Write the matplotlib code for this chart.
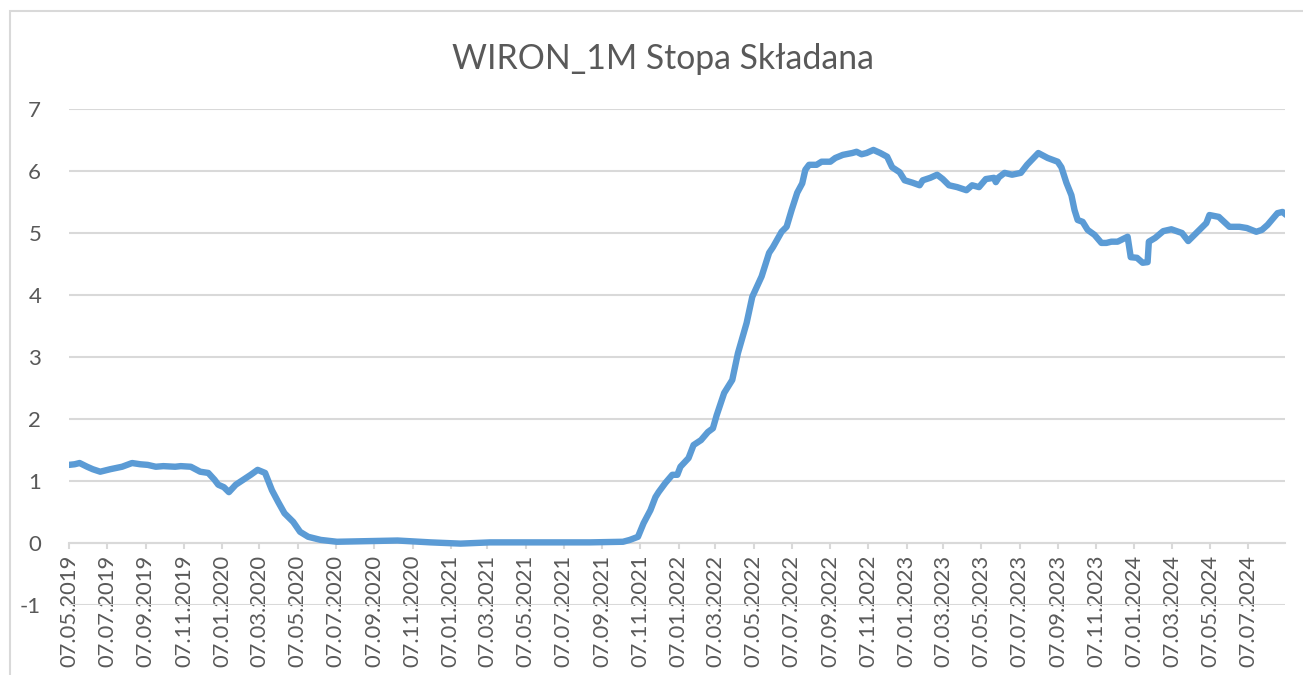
import matplotlib
matplotlib.use("Agg")
import matplotlib.pyplot as plt
import matplotlib.dates as mdates
from matplotlib.patches import Rectangle
import pandas as pd

title = "WIRON_1M Stopa Składana"

dates = [
    "2019-05-07", "2019-05-16", "2019-05-24", "2019-05-28", "2019-06-05", "2019-06-14",
    "2019-06-26", "2019-07-12", "2019-07-31", "2019-08-16", "2019-08-29", "2019-09-10",
    "2019-09-23", "2019-10-05", "2019-10-24", "2019-11-02", "2019-11-18", "2019-12-03",
    "2019-12-16", "2019-12-26", "2020-01-01", "2020-01-10", "2020-01-18", "2020-01-29",
    "2020-02-10", "2020-02-22", "2020-03-04", "2020-03-16", "2020-03-27", "2020-04-06",
    "2020-04-16", "2020-04-30", "2020-05-11", "2020-05-24", "2020-06-13", "2020-07-09",
    "2020-10-14", "2020-12-06", "2021-01-23", "2021-03-11", "2021-05-29", "2021-08-18",
    "2021-10-10", "2021-10-21", "2021-11-03", "2021-11-12", "2021-11-23", "2021-12-01",
    "2021-12-06", "2021-12-17", "2021-12-28", "2022-01-05", "2022-01-10", "2022-01-23",
    "2022-01-31", "2022-02-12", "2022-02-23", "2022-03-03", "2022-03-09", "2022-03-21",
    "2022-03-29", "2022-04-03", "2022-04-12", "2022-04-26", "2022-05-05", "2022-05-20",
    "2022-06-01", "2022-06-07", "2022-06-21", "2022-06-29", "2022-07-07", "2022-07-16",
    "2022-07-24", "2022-07-29", "2022-08-04", "2022-08-16", "2022-08-24", "2022-09-07",
    "2022-09-15", "2022-09-27", "2022-10-12", "2022-10-19", "2022-10-27", "2022-11-04",
    "2022-11-15", "2022-11-26", "2022-12-07", "2022-12-15", "2022-12-27", "2023-01-04",
    "2023-01-17", "2023-01-28", "2023-02-02", "2023-02-14", "2023-02-25", "2023-03-06",
    "2023-03-16", "2023-03-29", "2023-04-13", "2023-04-22", "2023-05-03", "2023-05-14",
    "2023-05-27", "2023-05-30", "2023-06-04", "2023-06-13", "2023-06-25", "2023-07-09",
    "2023-07-19", "2023-08-03", "2023-08-06", "2023-08-21", "2023-09-06", "2023-09-12",
    "2023-09-20", "2023-09-28", "2023-10-03", "2023-10-08", "2023-10-16", "2023-10-24",
    "2023-11-04", "2023-11-15", "2023-11-23", "2023-12-01", "2023-12-11", "2023-12-27",
    "2024-01-01", "2024-01-11", "2024-01-20", "2024-01-28", "2024-01-30", "2024-02-09",
    "2024-02-22", "2024-03-06", "2024-03-23", "2024-04-02", "2024-04-20", "2024-05-01",
    "2024-05-06", "2024-05-21", "2024-06-07", "2024-06-23", "2024-07-05", "2024-07-20",
    "2024-07-29", "2024-08-07", "2024-08-23", "2024-08-31", "2024-09-06",
]

values = [
    1.26, 1.27, 1.29, 1.27, 1.23, 1.19,
    1.15, 1.19, 1.23, 1.29, 1.27, 1.26,
    1.23, 1.24, 1.23, 1.24, 1.23, 1.15,
    1.13, 1.02, 0.94, 0.90, 0.82, 0.94,
    1.02, 1.10, 1.18, 1.13, 0.85, 0.66,
    0.48, 0.34, 0.18, 0.10, 0.05, 0.02,
    0.04, 0.01, -0.01, 0.01, 0.01, 0.01,
    0.02, 0.05, 0.10, 0.32, 0.53, 0.74,
    0.82, 0.97, 1.10, 1.10, 1.23, 1.37,
    1.58, 1.66, 1.79, 1.85, 2.06, 2.42,
    2.55, 2.63, 3.06, 3.55, 3.97, 4.30,
    4.68, 4.77, 5.02, 5.10, 5.37, 5.65,
    5.80, 6.02, 6.10, 6.10, 6.15, 6.15,
    6.21, 6.26, 6.29, 6.31, 6.27, 6.29,
    6.34, 6.29, 6.23, 6.06, 5.98, 5.85,
    5.81, 5.77, 5.85, 5.89, 5.94, 5.87,
    5.77, 5.74, 5.69, 5.77, 5.74, 5.87,
    5.89, 5.82, 5.90, 5.97, 5.94, 5.97,
    6.10, 6.26, 6.29, 6.21, 6.15, 6.06,
    5.81, 5.61, 5.37, 5.21, 5.18, 5.05,
    4.97, 4.84, 4.84, 4.86, 4.86, 4.94,
    4.61, 4.60, 4.52, 4.53, 4.86, 4.92,
    5.03, 5.06, 5.00, 4.87, 5.05, 5.16,
    5.29, 5.26, 5.10, 5.10, 5.08, 5.02,
    5.05, 5.13, 5.32, 5.34, 5.29,
]

y_ticks = [-1, 0, 1, 2, 3, 4, 5, 6, 7]
x_start = "2019-05-07"
x_end = "2024-09-04"

TEXT = "#595959"
GRID = "#d9d9d9"
LINE = "#5b9bd5"

plt.rcParams["font.family"] = ["Lato", "DejaVu Sans"]
plt.rcParams["axes.unicode_minus"] = False

fig = plt.figure(figsize=(13.03, 6.75), dpi=100)
fig.patches.append(Rectangle((10 / 1303, -0.1), 1.2, 1 - 11 / 675 + 0.1,
                             transform=fig.transFigure, fill=False,
                             edgecolor=GRID, linewidth=1.5))

ax = fig.add_axes([69 / 1303, 1 - 605 / 675, (1285 - 69) / 1303, (605 - 109) / 675])

x = pd.to_datetime(dates)
ax.plot(x, values, color=LINE, linewidth=4.6, solid_joinstyle="round",
        solid_capstyle="round", zorder=3)

ax.set_ylim(-1, 7)
ax.set_yticks(y_ticks)
ax.set_xlim(pd.Timestamp(x_start), pd.Timestamp(x_end))
ax.xaxis.set_major_locator(mdates.MonthLocator(bymonth=[1, 3, 5, 7, 9, 11], bymonthday=7))
ax.xaxis.set_major_formatter(mdates.DateFormatter("%d.%m.%Y"))

ax.grid(axis="y", color=GRID, linewidth=1.5, zorder=0)
for s in ["top", "right", "left"]:
    ax.spines[s].set_visible(False)
ax.spines["bottom"].set_position(("data", 0))
ax.spines["bottom"].set_color(GRID)
ax.spines["bottom"].set_linewidth(1.5)
ax.spines["bottom"].set_zorder(1)

ax.tick_params(axis="x", direction="out", length=4.5, width=1.5, color=GRID,
               labelsize=15.8, labelcolor=TEXT, labelrotation=90, pad=4)
ax.tick_params(axis="y", length=0, labelsize=16, labelcolor=TEXT, pad=20)

ax.set_title(title, fontsize=24.3, color=TEXT, pad=29, x=(662.5 - 69) / 1216)

fig.savefig("out.png", dpi=100)
